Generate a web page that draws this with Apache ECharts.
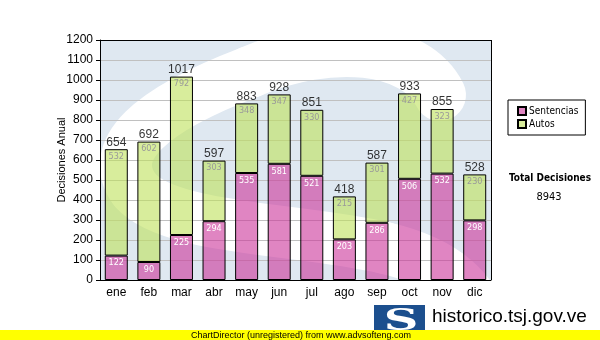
<!DOCTYPE html>
<html><head><meta charset="utf-8">
<script src="https://cdn.jsdelivr.net/npm/echarts@6/dist/echarts.min.js"></script>
<style>html,body{margin:0;padding:0;background:#fff}#c{width:600px;height:340px}</style>
</head><body><div id="c"></div>
<script>
var categories = ['ene','feb','mar','abr','may','jun','jul','ago','sep','oct','nov','dic'];
var sentencias = [122,90,225,294,535,581,521,203,286,506,532,298];
var autos = [532,602,792,303,348,347,330,215,301,427,323,230];
var totals = [654,692,1017,597,883,928,851,418,587,933,855,528];
var totalDecisiones = '8943';
var yMin = 0, yMax = 1200, yStep = 100;

var chart = echarts.init(document.getElementById('c'), null, {renderer:'canvas'});
var F = 'Liberation Sans, Arial, sans-serif';
var V = '"DejaVu Sans Condensed", "DejaVu Sans", Verdana, sans-serif';
var PL = 100, PT = 40, PW = 391, PH = 240;

function seg(x1,y1,c1x,c1y,c2x,c2y,x2,y2){
  return {type:'bezierCurve', z:-9, shape:{x1:x1,y1:y1,cpx1:c1x,cpy1:c1y,cpx2:c2x,cpy2:c2y,x2:x2,y2:y2},
    style:{fill:null, stroke:'#ffffff', lineWidth:52, lineCap:'round'}};
}

chart.setOption({
  animation: false,
  backgroundColor: '#fff',
  grid: {left: PL, top: PT, width: PW, height: PH, show: false},
  legend: {
    left: 508, top: 100, orient: 'vertical',
    padding: [6, 7, 6, 9], itemGap: 3,
    backgroundColor: '#fff', borderColor: '#000', borderWidth: 1,
    itemWidth: 8, itemHeight: 8, icon: 'rect',
    textStyle: {fontFamily: V, fontSize: 10, color: '#000', padding: [0,0,0,-2]},
    data: ['Sentencias','Autos']
  },
  xAxis: {
    type: 'category', data: categories,
    axisLine: {lineStyle: {color: '#000'}},
    axisTick: {alignWithLabel: true, length: 4, lineStyle: {color: '#000'}},
    axisLabel: {fontFamily: F, fontSize: 12, color: '#000', margin: 7}
  },
  yAxis: {
    type: 'value', min: yMin, max: yMax, interval: yStep,
    axisLine: {show: true, lineStyle: {color: '#000'}},
    axisTick: {show: true, length: 4, lineStyle: {color: '#000'}},
    axisLabel: {fontFamily: F, fontSize: 12, color: '#000', margin: 7, formatter: function(v){return String(v);}},
    splitLine: {lineStyle: {color: '#c0c0c0'}}
  },
  graphic: [
    {type:'rect', z:-10, shape:{x:PL, y:PT, width:PW, height:PH}, style:{fill:'#dfe8f1'}},
    seg(440,95, 415,45, 330,38, 250,72),
    seg(250,72, 150,110, 105,150, 135,190),
    seg(135,190, 170,230, 300,228, 385,248),
    seg(385,248, 445,262, 475,290, 485,330),
    {type:'rect', z:-8, shape:{x:0, y:0, width:600, height:PT}, style:{fill:'#fff'}},
    {type:'rect', z:-8, shape:{x:0, y:PT+PH, width:600, height:60}, style:{fill:'#fff'}},
    {type:'rect', z:-8, shape:{x:0, y:0, width:PL, height:340}, style:{fill:'#fff'}},
    {type:'rect', z:-8, shape:{x:PL+PW, y:0, width:120, height:340}, style:{fill:'#fff'}},
    {type:'line', z:5, shape:{x1:PL, y1:PT+0.5, x2:PL+PW+0.5, y2:PT+0.5}, style:{stroke:'#000', lineWidth:1}},
    {type:'line', z:5, shape:{x1:PL+PW+0.5, y1:PT, x2:PL+PW+0.5, y2:PT+PH}, style:{stroke:'#000', lineWidth:1}},
    {type:'text', x:62, y:160, rotation:Math.PI/2, style:{text:'Decisiones Anual', font:'11px Liberation Sans', fill:'#000', align:'center', verticalAlign:'middle'}},
    {type:'text', x:550, y:178, style:{text:'Total Decisiones', font:'bold 10px "DejaVu Sans Condensed", "DejaVu Sans"', fill:'#000', align:'center', verticalAlign:'middle'}},
    {type:'text', x:549, y:197, style:{text:totalDecisiones, font:'11px "DejaVu Sans Condensed", "DejaVu Sans"', fill:'#000', align:'center', verticalAlign:'middle'}},
    // logo
    {type:'text', z:1, x:432, y:317, style:{text:'historico.tsj.gov.ve', font:'19px Liberation Sans', fill:'#000', verticalAlign:'middle'}},
    {type:'text', z:1, x:432, y:336, style:{text:'Tribunal Supremo de Justicia', font:'11px Liberation Sans', fill:'#000', verticalAlign:'middle'}},
    {type:'rect', z:1, shape:{x:374, y:305, width:51, height:30}, style:{fill:'#1c4f8e'}},
    {type:'text', z:2, x:401, y:322, scaleX:1.6, style:{text:'S', font:'bold 30px DejaVu Serif', fill:'#fff', align:'center', verticalAlign:'middle'}},
    {type:'rect', z:3, shape:{x:0, y:330, width:600, height:10}, style:{fill:'#ffff00'}},
    {type:'text', z:4, x:301, y:335.5, style:{text:'ChartDirector (unregistered) from www.advsofteng.com', font:'9px Liberation Sans', fill:'#000', align:'center', verticalAlign:'middle'}}
  ],
  series: [
    {name:'Sentencias', type:'bar', stack:'t', data: sentencias, barWidth: 23,
      itemStyle:{color:'rgba(204,51,153,0.6)', borderColor:'#000', borderWidth:1},
      label:{show:true, position:'insideTop', distance:3, color:'#fff', fontFamily:V, fontSize:9}},
    {name:'Autos', type:'bar', stack:'t', data: autos, barWidth: 23,
      itemStyle:{color:'rgba(190,225,90,0.6)', borderColor:'#000', borderWidth:1},
      label:{show:true, position:'insideTop', distance:3, color:'#999', fontFamily:V, fontSize:9}},
    {name:'Total', type:'scatter', data: totals, symbolSize: 0, silent:true,
      label:{show:true, position:'top', distance:1, color:'#000', fontFamily:F, fontSize:12}}
  ]
});
</script></body></html>
